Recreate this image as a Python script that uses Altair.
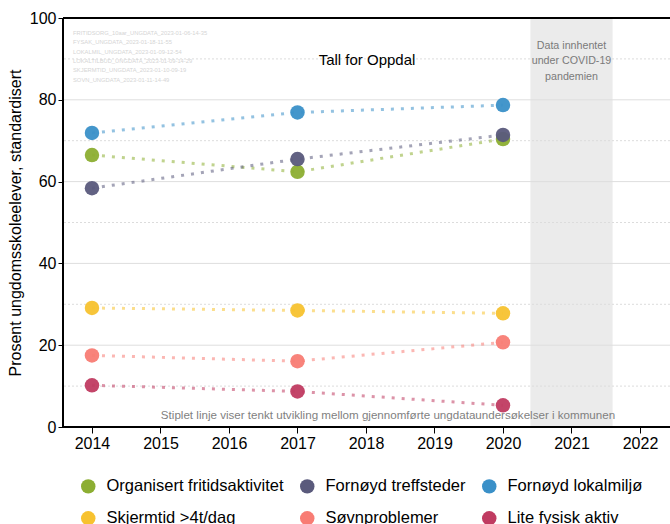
import altair as alt
import pandas as pd

years = [2014, 2017, 2020]
series_names = [
    "Organisert fritidsaktivitet",
    "Fornøyd treffsteder",
    "Fornøyd lokalmiljø",
    "Skjermtid >4t/dag",
    "Søvnproblemer",
    "Lite fysisk aktiv",
]
organisert = [66.5, 62.4, 70.4]
treffsteder = [58.4, 65.5, 71.4]
lokalmiljo = [71.9, 76.9, 78.7]
skjermtid = [29.1, 28.5, 27.8]
sovn = [17.5, 16.1, 20.7]
fysisk = [10.2, 8.7, 5.3]
series_values = [organisert, treffsteder, lokalmiljo, skjermtid, sovn, fysisk]
colors = ["#8CAE32", "#5A5A7C", "#3A90C8", "#F7C22F", "#F87C74", "#C03B61"]

x_ticks = list(range(2014, 2023))
y_ticks = [0, 20, 40, 60, 80, 100]
major_grid = [20, 40, 60, 80]
minor_grid = [10, 30, 50, 70, 90]
covid_start, covid_end = [2020.4], [2021.6]
x_domain = [2013.577, 2022.438]

title_text = "Tall for Oppdal"
covid_text = "Data innhentet\nunder COVID-19\npandemien"
footer_text = "Stiplet linje viser tenkt utvikling mellom gjennomførte ungdataundersøkelser i kommunen"
source_lines = [
    "FRITIDSORG_10aar_UNGDATA_2023-01-06-14-35",
    "FYSAK_UNGDATA_2023-01-18-11-55",
    "LOKALMIL_UNGDATA_2023-01-09-12-54",
    "LOKALTILBUD_UNGDATA_2023-01-09-14-29",
    "SKJERMTID_UNGDATA_2023-01-10-09-19",
    "SOVN_UNGDATA_2023-01-11-14-49",
]

rows = []
for name, vals in zip(series_names, series_values):
    for yr, v in zip(years, vals):
        rows.append({"year": yr, "value": v, "serie": name})
df = pd.DataFrame(rows)

FONT = "Liberation Sans"
W, H = 607, 409

xs = alt.Scale(domain=x_domain, nice=False, zero=False)
ys = alt.Scale(domain=[0, 100], nice=False)
cs = alt.Scale(domain=series_names, range=colors)

x_axis = alt.Axis(values=x_ticks, format="d", title=None, grid=False,
                  domain=False, tickColor="black", tickSize=6, tickWidth=1,
                  labelFontSize=16, labelColor="black", labelFont=FONT,
                  labelPadding=2, labelFlush=False)
y_axis = alt.Axis(values=y_ticks, title="Prosent ungdomsskoleelever, standardisert",
                  grid=False, domain=False, tickColor="black", tickSize=5,
                  tickWidth=1, labelFontSize=16, labelColor="black",
                  labelFont=FONT, labelPadding=2, titleFontSize=16,
                  titleFont=FONT, titleFontWeight="normal", titleColor="black",
                  titlePadding=6, labelFlush=False)
legend = alt.Legend(
    title=None, orient="none", legendX=17, legendY=460, columns=3,
    direction="horizontal", symbolType="circle", symbolSize=210,
    symbolOpacity=1, symbolStrokeWidth=0, labelFontSize=16.5, labelFont=FONT,
    labelColor="black", columnPadding=15, rowPadding=15, labelOffset=10,
    labelLimit=400,
)


def X(field):
    return alt.X(field, scale=xs, axis=x_axis)


def Y(field):
    return alt.Y(field, scale=ys, axis=y_axis)


band = alt.Chart(pd.DataFrame({"a": covid_start, "b": covid_end})).mark_rect(
    color="#ebebeb"
).encode(x=X("a:Q"), x2="b:Q", y=alt.value(0), y2=alt.value(H))

minor = alt.Chart(pd.DataFrame({"g": minor_grid})).mark_rule(
    color="#dcdcdc", strokeWidth=1, strokeDash=[2, 2]
).encode(y=Y("g:Q"))

major = alt.Chart(pd.DataFrame({"g": major_grid})).mark_rule(
    color="#dedede", strokeWidth=1
).encode(y=Y("g:Q"))

covid_lbl = alt.Chart(pd.DataFrame({"x": [2021.0], "t": [covid_text]})).mark_text(
    font=FONT, fontSize=10.7, color="#7a7a7a", lineBreak="\n", lineHeight=15.5,
    baseline="top", align="center"
).encode(x=X("x:Q"), y=alt.value(22.5), text="t:N")

src = alt.Chart(pd.DataFrame({"t": ["\n".join(source_lines)]})).mark_text(
    font=FONT, fontSize=5.8, color="#d5d5d5", lineBreak="\n", lineHeight=9.3,
    baseline="middle", align="left"
).encode(x=alt.value(10), y=alt.value(15), text="t:N")

title = alt.Chart(pd.DataFrame({"t": [title_text]})).mark_text(
    font=FONT, fontSize=15, color="black", align="center", baseline="middle"
).encode(x=alt.value(304), y=alt.value(42), text="t:N")

footer = alt.Chart(pd.DataFrame({"t": [footer_text]})).mark_text(
    font=FONT, fontSize=11.6, color="#7f7f7f", align="center", baseline="middle"
).encode(x=alt.value(325), y=alt.value(397.5), text="t:N")

lines = alt.Chart(df).mark_line(
    strokeWidth=3, strokeDash=[3, 7], opacity=0.55
).encode(
    x=X("year:Q"), y=Y("value:Q"),
    color=alt.Color("serie:N", scale=cs, legend=legend),
    detail="serie:N",
)

points = alt.Chart(df).mark_circle(size=210, opacity=0.95).encode(
    x=X("year:Q"), y=Y("value:Q"),
    color=alt.Color("serie:N", scale=cs, legend=legend),
)

one = pd.DataFrame({"a": [0]})
frame_left = alt.Chart(one).mark_rule(color="black", strokeWidth=2).encode(
    x=alt.value(0), y=alt.value(0), y2=alt.value(H))
frame_bottom = alt.Chart(one).mark_rule(color="black", strokeWidth=2).encode(
    x=alt.value(0), x2=alt.value(W), y=alt.value(H))
frame_top = alt.Chart(one).mark_rule(color="black", strokeWidth=2).encode(
    x=alt.value(0), x2=alt.value(W), y=alt.value(0))

chart = alt.layer(
    band, minor, major, covid_lbl, src, title, footer, lines, points,
    frame_left, frame_bottom, frame_top,
).properties(
    width=W, height=H,
    autosize=alt.AutoSizeParams(type="none"),
    padding={"left": 63, "top": 18, "right": 0, "bottom": 97},
).configure_view(stroke=None).configure(background="white")

chart.save("out.html", embed_options={"renderer": "svg", "actions": False})
